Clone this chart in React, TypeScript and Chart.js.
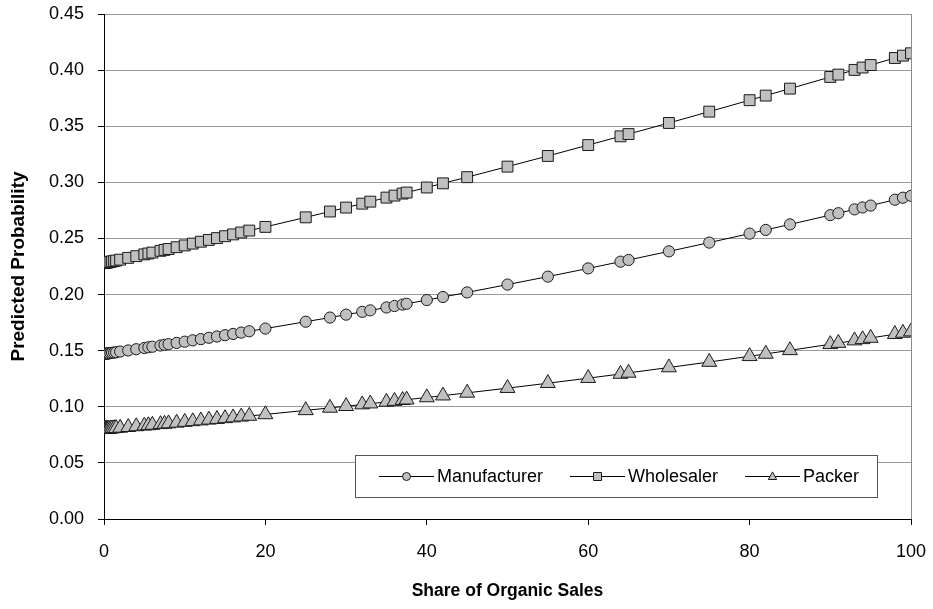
import React, { useEffect, useRef } from "react";
import { Chart, registerables } from "chart.js";

Chart.register(...registerables);

// ---- data ----
const shareOfOrganicSales = [
  0, 0.1, 0.2, 0.3, 0.4, 0.5, 0.6, 0.8, 1, 1.25, 1.5, 2, 3, 4, 5, 5.5, 6, 7, 7.5, 8,
  9, 10, 11, 12, 13, 14, 15, 16, 17, 18, 20, 25, 28, 30, 32, 33, 35, 36, 37, 37.5,
  40, 42, 45, 50, 55, 60, 64, 65, 70, 75, 80, 82, 85, 90, 91, 93, 94, 95, 98, 99, 100,
];

const manufacturer = [
  0.147, 0.1471, 0.1472, 0.1473, 0.1474, 0.1475, 0.1476, 0.1479, 0.1481, 0.1483, 0.1486,
  0.1492, 0.1502, 0.1513, 0.1524, 0.153, 0.1535, 0.1546, 0.1552, 0.1558, 0.1569, 0.158,
  0.1592, 0.1603, 0.1615, 0.1626, 0.1638, 0.1649, 0.1661, 0.1673, 0.1697, 0.1758, 0.1795,
  0.1821, 0.1846, 0.1859, 0.1885, 0.1898, 0.1911, 0.1918, 0.1951, 0.1978, 0.2019, 0.2089,
  0.216, 0.2233, 0.2293, 0.2308, 0.2385, 0.2463, 0.2543, 0.2576, 0.2625, 0.2708, 0.2725,
  0.2759, 0.2776, 0.2793, 0.2845, 0.2863, 0.288,
];

const wholesaler = [
  0.228, 0.2282, 0.2283, 0.2285, 0.2286, 0.2288, 0.2289, 0.2292, 0.2295, 0.2299, 0.2303,
  0.2311, 0.2327, 0.2342, 0.2358, 0.2366, 0.2374, 0.239, 0.2398, 0.2406, 0.2422, 0.2438,
  0.2454, 0.2471, 0.2487, 0.2503, 0.252, 0.2536, 0.2553, 0.257, 0.2603, 0.2688, 0.274,
  0.2775, 0.281, 0.2828, 0.2864, 0.2882, 0.29, 0.2909, 0.2954, 0.2991, 0.3046, 0.314,
  0.3235, 0.3332, 0.341, 0.343, 0.3529, 0.363, 0.3732, 0.3773, 0.3835, 0.3939, 0.396,
  0.4002, 0.4023, 0.4045, 0.4108, 0.4129, 0.415,
];

const packer = [
  0.08, 0.0801, 0.0801, 0.0802, 0.0802, 0.0803, 0.0804, 0.0805, 0.0806, 0.0808, 0.0809,
  0.0812, 0.0818, 0.0825, 0.0831, 0.0834, 0.0838, 0.0844, 0.0847, 0.0851, 0.0857, 0.0864,
  0.087, 0.0877, 0.0884, 0.089, 0.0897, 0.0904, 0.0911, 0.0918, 0.0932, 0.0968, 0.099,
  0.1005, 0.102, 0.1028, 0.1043, 0.1051, 0.1059, 0.1063, 0.1083, 0.1099, 0.1124, 0.1166,
  0.121, 0.1255, 0.1292, 0.1302, 0.135, 0.1399, 0.145, 0.1471, 0.1503, 0.1557, 0.1568,
  0.159, 0.1601, 0.1613, 0.1647, 0.1658, 0.167,
];

const seriesNames = ["Manufacturer", "Wholesaler", "Packer"];
const seriesMarkers = ["circle", "rect", "triangle"];
const xAxisTitle = "Share of Organic Sales";
const yAxisTitle = "Predicted Probability";
const xMin = 0;
const xMax = 100;
const xStep = 20;
const yMin = 0;
const yMax = 0.45;
const yStep = 0.05;

const FONT = "'Liberation Sans', Arial, Helvetica, sans-serif";
const MARKER_FILL = "#c0c0c0";
const MARKER_EDGE = "#1a1a1a";

function drawMarker(ctx: CanvasRenderingContext2D, style: string, x: number, y: number, r: number) {
  ctx.beginPath();
  if (style === "circle") {
    ctx.arc(x, y, r, 0, Math.PI * 2);
  } else if (style === "rect") {
    ctx.rect(x - r, y - r, 2 * r, 2 * r);
  } else {
    ctx.moveTo(x, y - r * 1.15);
    ctx.lineTo(x + r * 1.05, y + r * 0.75);
    ctx.lineTo(x - r * 1.05, y + r * 0.75);
    ctx.closePath();
  }
  ctx.fillStyle = MARKER_FILL;
  ctx.fill();
  ctx.lineWidth = 1;
  ctx.strokeStyle = MARKER_EDGE;
  ctx.stroke();
}

const framePlugin = {
  id: "frame",
  beforeDatasetsDraw(chart: any) {
    const { ctx, chartArea } = chart;
    ctx.save();
    ctx.strokeStyle = "#8c8c8c";
    ctx.lineWidth = 1;
    ctx.beginPath();
    ctx.moveTo(Math.round(chartArea.right) + 0.5, chartArea.top);
    ctx.lineTo(Math.round(chartArea.right) + 0.5, chartArea.bottom);
    ctx.stroke();
    ctx.restore();
  },
};

const legendPlugin = {
  id: "boxLegend",
  afterDatasetsDraw(chart: any) {
    const { ctx } = chart;
    const box = { left: 355, top: 455, right: 877, bottom: 497 };
    ctx.save();
    ctx.fillStyle = "#ffffff";
    ctx.fillRect(box.left, box.top, box.right - box.left, box.bottom - box.top);
    ctx.strokeStyle = "#555555";
    ctx.lineWidth = 1;
    ctx.strokeRect(box.left + 0.5, box.top + 0.5, box.right - box.left, box.bottom - box.top);
    const cy = (box.top + box.bottom) / 2;
    const starts = [379, 570, 745];
    const lineLen = 55;
    ctx.font = `18px ${FONT}`;
    ctx.textBaseline = "middle";
    ctx.textAlign = "left";
    seriesNames.forEach((name, i) => {
      const sx = starts[i];
      ctx.strokeStyle = "#000";
      ctx.lineWidth = 1;
      ctx.beginPath();
      ctx.moveTo(sx, Math.round(cy) + 0.5);
      ctx.lineTo(sx + lineLen, Math.round(cy) + 0.5);
      ctx.stroke();
      drawMarker(ctx, seriesMarkers[i], sx + lineLen / 2, Math.round(cy) + 0.5, 4);
      ctx.fillStyle = "#000";
      ctx.fillText(name, sx + lineLen + 3, cy + 1);
    });
    ctx.restore();
  },
};

export default function App() {
  const canvasRef = useRef<HTMLCanvasElement | null>(null);

  useEffect(() => {
    if (!canvasRef.current) return;
    const seriesValues = [manufacturer, wholesaler, packer];
    const radii = [5.6, 7.7, 8.6];
    const datasets = seriesNames.map((name, i) => ({
      label: name,
      data: shareOfOrganicSales.map((x, j) => ({ x, y: seriesValues[i][j] })),
      borderColor: "#000000",
      borderWidth: 1,
      pointStyle: seriesMarkers[i],
      pointRadius: radii[i],
      pointBackgroundColor: MARKER_FILL,
      pointBorderColor: MARKER_EDGE,
      pointBorderWidth: 1,
      tension: 0,
      fill: false,
    }));

    const chart = new Chart(canvasRef.current, {
      type: "line",
      data: { datasets },
      plugins: [framePlugin, legendPlugin],
      options: {
        animation: false,
        responsive: true,
        maintainAspectRatio: false,
        layout: { padding: { top: 14, right: 22, left: 0, bottom: 0 } },
        plugins: {
          legend: { display: false },
          tooltip: { enabled: false },
        },
        scales: {
          x: {
            type: "linear",
            min: xMin,
            max: xMax,
            afterFit(scale: any) {
              scale.height = 90;
              scale.paddingLeft = 0;
              scale.paddingRight = 0;
            },
            ticks: {
              stepSize: xStep,
              color: "#000",
              font: { family: FONT, size: 18 },
              padding: 16,
              maxRotation: 0,
            },
            grid: {
              drawOnChartArea: false,
              drawTicks: true,
              tickLength: 6,
              tickColor: "#000",
            },
            border: { color: "#000", width: 1 },
            title: {
              display: true,
              text: xAxisTitle,
              color: "#000",
              font: { family: FONT, size: 17.5, weight: "bold" },
              padding: { top: 0, bottom: 7 },
            },
          },
          y: {
            type: "linear",
            min: yMin,
            max: yMax,
            afterFit(scale: any) {
              scale.width = 104;
              scale.paddingTop = 0;
              scale.paddingBottom = 0;
            },
            ticks: {
              stepSize: yStep,
              color: "#000",
              font: { family: FONT, size: 18 },
              padding: 14,
              callback: (v: any) => Number(v).toFixed(2),
            },
            grid: {
              color: "#9a9a9a",
              lineWidth: 1,
              drawTicks: true,
              tickLength: 6,
              tickColor: "#000",
            },
            border: { color: "#000", width: 1 },
            title: {
              display: true,
              text: yAxisTitle,
              color: "#000",
              font: { family: FONT, size: 19, weight: "bold" },
              padding: { top: 7, bottom: 0 },
            },
          },
        },
      } as any,
    });
    return () => chart.destroy();
  }, []);

  return (
    <div style={{ position: "absolute", left: 0, top: 0, width: 933, height: 609, background: "#fff" }}>
      <canvas ref={canvasRef} />
    </div>
  );
}
